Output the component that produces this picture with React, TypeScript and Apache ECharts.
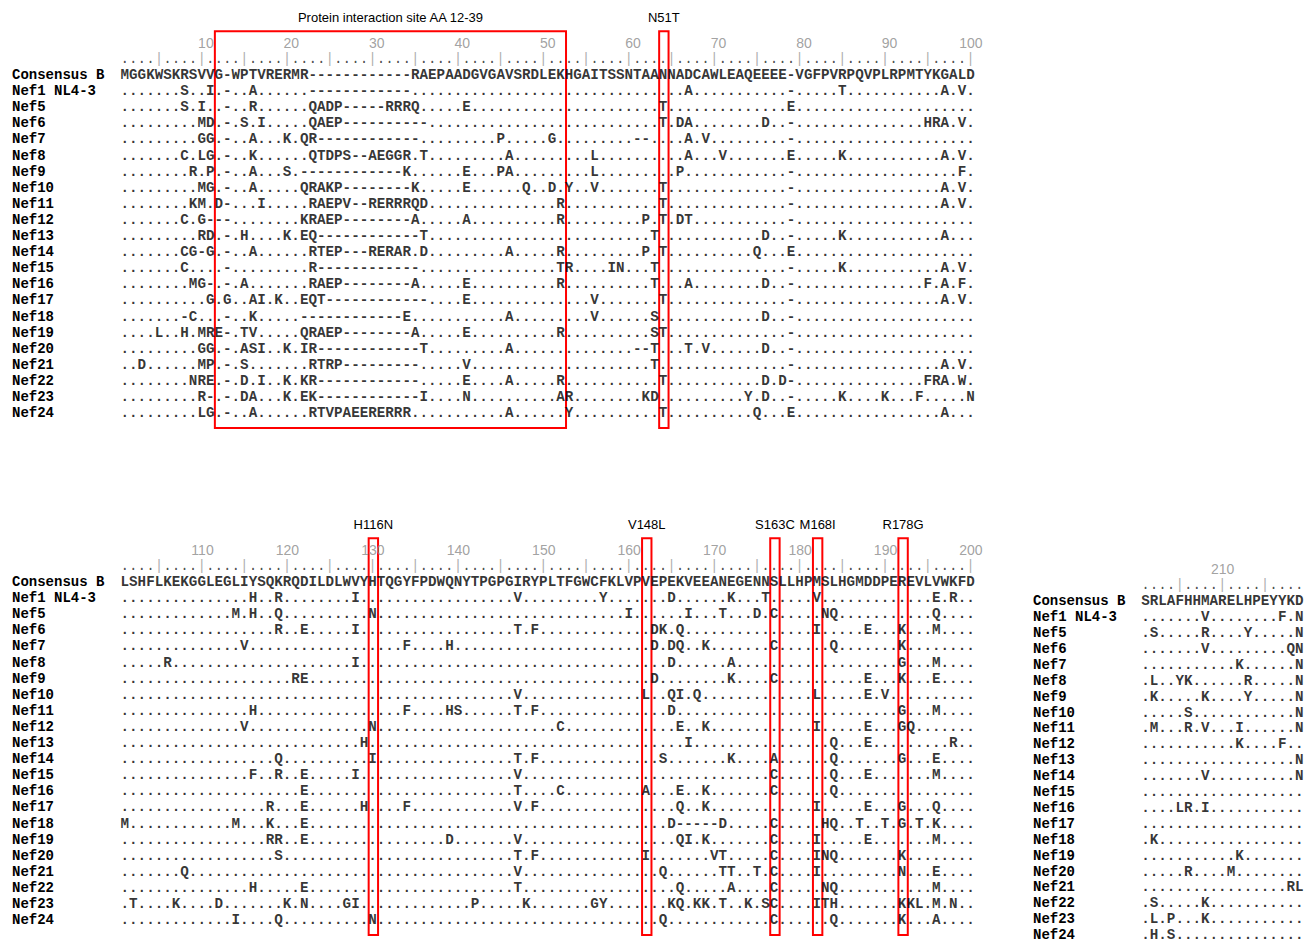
import React, { useEffect, useRef } from "react";
import * as echarts from "echarts";

const names = [
  "Consensus B", "Nef1 NL4-3", "Nef5", "Nef6", "Nef7", "Nef8", "Nef9", "Nef10", "Nef11",
  "Nef12", "Nef13", "Nef14", "Nef15", "Nef16", "Nef17", "Nef18", "Nef19", "Nef20",
  "Nef21", "Nef22", "Nef23", "Nef24",
];

const _ = "..........";

// alignment positions 1-100, in chunks of ten columns
const block1: string[][] = [
  ["MGGKWSKRSV", "VG-WPTVRER", "MR--------", "----RAEPAA", "DGVGAVSRDL", "EKHGAITSSN", "TAANNADCAW", "LEAQEEEE-V", "GFPVRPQVPL", "RPMTYKGALD"],
  [".......S..", "I.-..A....", "..--------", "----......", _, _, "......A...", "........-.", "....T.....", "......A.V."],
  [".......S.I", "..-..R....", "..QADP----", "-RRRQ.....", "E.........", _, "...T......", "........E.", _, _],
  [".........M", "D.-.S.I...", "..QAEP----", "------....", _, _, "...T.DA...", ".....D..-.", _, "....HRA.V."],
  [".........G", "G.-..A...K", ".QR-------", "-----.....", "....P.....", "G.........", "--....A.V.", "........-.", _, _],
  [".......C.L", "G.-..K....", "..QTDPS--A", "EGGR.T....", ".....A....", ".....L....", "......A...", "V.......E.", "....K.....", "......A.V."],
  ["........R.", "P.-..A...S", ".---------", "---K......", "E...PA....", ".....L....", ".....P....", "........-.", _, "........F."],
  [".........M", "G.-..A....", ".QRAKP----", "----K.....", "E......Q..", "D.Y..V....", "...T......", "........-.", _, "......A.V."],
  ["........KM", ".D-...I...", "..RAEPV--R", "ERRRQD....", _, ".R........", "...T......", "........-.", _, "......A.V."],
  [".......C.G", "---.......", ".KRAEP----", "----A.....", "A.........", ".R........", ".P.T.DT...", "........-.", _, _],
  [".........R", "D.-.H....K", ".EQ-------", "-----T....", _, _, "..T.......", ".....D..-.", "....K.....", "......A..."],
  [".......CG-", "G.-..A....", "..RTEP---R", "ERAR.D....", ".....A....", ".R........", ".P.T......", "....Q...E.", _, _],
  [".......C..", "..-.......", "..R-------", "-----.....", _, ".TR....IN.", "..T.......", "........-.", "....K.....", "......A.V."],
  ["........MG", "-.-.A.....", "..RAEP----", "----A.....", "E.........", ".R........", "..T...A...", ".....D..-.", _, "....F.A.F."],
  [_, "G.G..AI.K.", ".EQT------", "------....", "E.........", ".....V....", "...T......", "........-.", _, "......A.V."],
  [".......-C.", "..-..K....", ".---------", "---E......", ".....A....", ".....V....", "..S.......", ".....D..-.", _, _],
  ["....L..H.M", "RE-.TV....", ".QRAEP----", "----A.....", "E.........", ".R........", "..ST......", "........-.", _, _],
  [".........G", "G.-.ASI..K", ".IR-------", "-----T....", ".....A....", _, "--T...T.V.", ".....D..-.", _, _],
  ["..D......M", "P.-.S.....", "..RTRP----", "-----.....", "V.........", _, "..T.......", "........-.", _, "......A.V."],
  ["........NR", "E.-.D.I..K", ".KR-------", "-----.....", "E....A....", ".R........", "...T......", ".....D.D-.", _, "....FRA.W."],
  [".........R", "-.-.DA...K", ".EK-------", "-----I....", "N.........", ".AR.......", ".KD.......", "...Y.D..-.", "....K....K", "...F.....N"],
  [".........L", "G.-..A....", "..RTVPAEER", "ERRR......", ".....A....", "..Y.......", "...T......", "....Q...E.", _, "......A..."],
];

// alignment positions 101-200
const block2: string[][] = [
  ["LSHFLKEKGG", "LEGLIYSQKR", "QDILDLWVYH", "TQGYFPDWQN", "YTPGPGIRYP", "LTFGWCFKLV", "PVEPEKVEEA", "NEGENNSLLH", "PMSLHGMDDP", "EREVLVWKFD"],
  [_, ".....H..R.", ".......I..", _, "......V...", "......Y...", "....D.....", ".K...T....", ".V........", ".....E.R.."],
  [_, "...M.H..Q.", ".........N", _, _, ".........I", "......I...", "T...D.C...", "..NQ......", ".....Q...."],
  [_, "........R.", ".E.....I..", _, "......T.F.", _, "..DK.Q....", _, ".I.....E..", ".K...M...."],
  [_, "....V.....", _, "...F....H.", _, _, "..D.DQ..K.", "......C...", "...Q......", ".K........"],
  [".....R....", _, ".......I..", _, _, _, "....D.....", ".A........", _, ".G...M...."],
  [_, _, "RE........", _, _, _, "..D.......", ".K....C...", ".......E..", ".K...E...."],
  [_, _, _, _, "......V...", _, ".L..QI.Q..", _, ".L.....E.V", _],
  [_, ".....H....", _, "...F....HS", "......T.F.", _, "....D.....", _, _, ".G...M...."],
  [_, "....V.....", ".........N", _, _, ".C........", ".....E..K.", _, ".I.....E..", ".GQ......."],
  [_, _, "........H.", _, _, _, "......I...", _, "...Q...E..", ".......R.."],
  [_, "........Q.", ".........I", _, "......T.F.", _, "...S......", ".K....A...", "...Q......", ".G...E...."],
  [_, ".....F..R.", ".E.....I..", _, "......V...", _, _, "......C...", "...Q...E..", ".....M...."],
  [_, _, ".E........", _, "......T...", ".C........", ".A...E..K.", "......C...", "...Q......", _],
  [_, ".......R..", ".E......H.", "...F......", "......V.F.", _, ".....Q..K.", _, ".I.....E..", ".G...Q...."],
  ["M.........", "...M...K..", ".E........", _, _, _, "....D-----", "D.....C...", "..HQ..T..T", ".G.T.K...."],
  [_, ".......RR.", ".E........", "........D.", "......V...", _, ".....QI.K.", "......C...", ".I.....E..", ".....M...."],
  [_, "........S.", _, _, "......T.F.", _, ".I.......V", "T.....C...", ".INQ......", ".K........"],
  [".......Q..", _, _, _, "......V...", _, "...Q......", "TT..T.C...", ".I........", ".N...E...."],
  [_, ".....H....", ".E........", _, "......T...", _, ".....Q....", ".A....C...", "..NQ......", ".....M...."],
  [".T....K...", ".D.......K", ".N....GI..", _, ".P.....K..", ".....GY...", "....KQ.KK.", "T..K.SC...", ".ITH......", ".KKL.M.N.."],
  [_, "...I....Q.", ".........N", _, _, _, "...Q......", "......C...", "...Q......", ".K...A...."],
];

// alignment positions 201-219
const block3: string[] = [
  "SRLAFHHMARELHPEYYKD",
  ".......V........F.N",
  ".S.....R....Y.....N",
  ".......V.........QN",
  "...........K......N",
  ".L..YK......R.....N",
  ".K.....K....Y.....N",
  ".....S............N",
  ".M...R.V...I......N",
  "...........K....F..",
  "..................N",
  ".......V..........N",
  "...................",
  "....LR.I...........",
  "...................",
  ".K.................",
  "...........K.......",
  ".....R....M........",
  ".................RL",
  ".S.....K...........",
  ".L.P...K...........",
  ".H.S...............",
];

const ruler1 = "....|....|....|....|....|....|....|....|....|....|....|....|....|....|....|....|....|....|....|....|";
const ruler2 = ruler1;
const ruler3 = "....|....|....|....";

const ticks1 = [10, 20, 30, 40, 50, 60, 70, 80, 90, 100];
const ticks2 = [110, 120, 130, 140, 150, 160, 170, 180, 190, 200];
const ticks3 = [210];

const boxes1 = [
  { from: 12, to: 52, label: "Protein interaction site AA 12-39" },
  { from: 64, to: 64, label: "N51T" },
];
const boxes2 = [
  { from: 130, to: 130, label: "H116N" },
  { from: 162, to: 162, label: "V148L" },
  { from: 177, to: 177, label: "S163C" },
  { from: 182, to: 182, label: "M168I" },
  { from: 192, to: 192, label: "R178G" },
];
const boxes3: { from: number; to: number; label: string }[] = [];

// layout
const CW = 8.544;
const FS = CW / 0.6;
const PITCH = 16.1;
const MONO = "'Liberation Mono', 'Courier New', monospace";
const SANS = "'Liberation Sans', Arial, sans-serif";

const blocks = [
  { left: 120.03, y0: 75, start: 1, ncol: 100, ymax: 22, nameX: 12, rows: block1.map((r) => r.join("")), ruler: ruler1, ticks: ticks1, boxes: boxes1 },
  { left: 120.03, y0: 582, start: 101, ncol: 100, ymax: 22, nameX: 12, rows: block2.map((r) => r.join("")), ruler: ruler2, ticks: ticks2, boxes: boxes2 },
  { left: 1140.73, y0: 602, start: 201, ncol: 19, ymax: 21.5, nameX: 1033, rows: block3, ruler: ruler3, ticks: ticks3, boxes: boxes3 },
];

function buildOption() {
  const grid: any[] = [];
  const xAxis: any[] = [];
  const yAxis: any[] = [];
  const series: any[] = [];
  blocks.forEach((b, i) => {
    grid.push({ left: b.left, top: b.y0 - 4 * PITCH, width: b.ncol * CW, height: (b.ymax + 4) * PITCH });
    xAxis.push({ gridIndex: i, type: "value", min: b.start - 0.5, max: b.start + b.ncol - 0.5, show: false });
    yAxis.push({
      gridIndex: i, type: "value", min: -4, max: b.ymax, interval: 1, inverse: true,
      axisLine: { show: false }, axisTick: { show: false }, splitLine: { show: false },
      axisLabel: {
        formatter: (v: number) => (Number.isInteger(v) && v >= 0 && v < names.length ? names[v] : ""),
        align: "left", margin: b.left - b.nameX,
        fontFamily: MONO, fontWeight: "bold", fontSize: 14, color: "#000",
      },
    });
    const common = { xAxisIndex: i, yAxisIndex: i, silent: true, symbolSize: 1, itemStyle: { color: "rgba(0,0,0,0)" } };
    // sequences
    series.push({
      ...common, type: "scatter",
      data: b.rows.map((s, k) => ({ name: s, value: [b.start - 0.5, k] })),
      label: { show: true, position: "right", distance: 0, formatter: "{b}", fontFamily: MONO, fontWeight: "bold", fontSize: FS, color: "#000" },
    });
    // ruler
    series.push({
      ...common, type: "scatter",
      data: [{ name: b.ruler, value: [b.start - 0.5, -1] }],
      label: {
        show: true, position: "right", distance: 0,
        formatter: (p: any) => p.name.split("").map((c: string) => (c === "|" ? "{p||}" : "{d|.}")).join(""),
        rich: {
          d: { fontFamily: MONO, fontSize: FS, color: "#222" },
          p: { fontFamily: MONO, fontSize: FS, color: "#9a9a9a" },
        },
      },
    });
    // position numbers
    series.push({
      ...common, type: "scatter",
      data: b.ticks.map((t) => ({ name: String(t), value: [t, -2] })),
      label: { show: true, position: "inside", align: "right", offset: [12.5, 0], formatter: "{b}", fontFamily: SANS, fontSize: 14, color: "#8a8a8a" },
    });
    // red boxes
    if (b.boxes.length) {
      const bx = b.boxes;
      series.push({
        type: "custom", xAxisIndex: i, yAxisIndex: i, silent: true, clip: false,
        data: bx.map((r) => [r.from, r.to]),
        renderItem: (params: any, api: any) => {
          const r = bx[params.dataIndex];
          const p0 = api.coord([r.from - 0.4, -2.72]);
          const p1 = api.coord([r.to + 0.7, 21.93]);
          const pt = api.coord([(r.from + r.to) / 2 + 0.15, -3.55]);
          return {
            type: "group",
            children: [
              { type: "rect", shape: { x: p0[0], y: p0[1], width: p1[0] - p0[0], height: p1[1] - p0[1] }, style: { fill: "none", stroke: "#ff0000", lineWidth: 2 } },
              { type: "text", x: pt[0], y: pt[1], style: { text: r.label, align: "center", verticalAlign: "middle", fill: "#000", font: `13px ${SANS}` } },
            ],
          };
        },
      });
    }
  });
  return { animation: false, backgroundColor: "#fff", grid, xAxis, yAxis, series };
}

export default function App() {
  const ref = useRef<HTMLDivElement>(null);
  useEffect(() => {
    if (!ref.current) return;
    const chart = echarts.init(ref.current, undefined, { renderer: "svg" });
    chart.setOption(buildOption() as any);
    return () => chart.dispose();
  }, []);
  return <div ref={ref} style={{ position: "absolute", left: 0, top: 0, width: 1315, height: 947, background: "#fff" }} />;
}
